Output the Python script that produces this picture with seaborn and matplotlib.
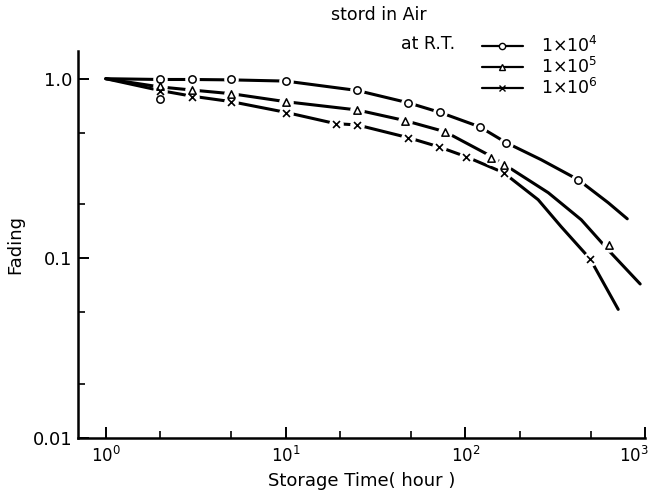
import matplotlib
matplotlib.use("Agg")
import matplotlib.pyplot as plt
import matplotlib.ticker as mticker
import matplotlib.transforms as mtransforms
from matplotlib.lines import Line2D
import seaborn as sns

# measured points (storage time in hours, relative fading)
hours_1e4 = [2, 2, 3, 5, 10, 25, 48, 72, 120, 169, 424]
fading_1e4 = [0.99, 0.77, 0.99, 0.99, 0.975, 0.86, 0.735, 0.65, 0.54, 0.44, 0.274]
hours_1e5 = [2, 3, 5, 10, 25, 46, 77, 139, 163, 630]
fading_1e5 = [0.91, 0.87, 0.825, 0.745, 0.67, 0.585, 0.507, 0.363, 0.332, 0.119]
hours_1e6 = [2, 3, 5, 10, 19, 25, 48, 71, 101, 163, 495]
fading_1e6 = [0.85, 0.79, 0.745, 0.647, 0.56, 0.555, 0.47, 0.418, 0.368, 0.30, 0.099]

# hand drawn guide curves
curve_x_1e4 = [1, 2, 3, 5, 10, 25, 48, 72, 120, 169, 264, 424, 623, 795]
curve_y_1e4 = [1.0, 0.99, 0.99, 0.985, 0.97, 0.86, 0.735, 0.65, 0.54, 0.44, 0.354, 0.274, 0.204, 0.166]
curve_x_1e5 = [1, 2, 3, 5, 10, 25, 46, 77, 139, 163, 289, 441, 630, 938]
curve_y_1e5 = [1.0, 0.9, 0.865, 0.825, 0.745, 0.67, 0.585, 0.507, 0.37, 0.335, 0.232, 0.164, 0.11, 0.072]
curve_x_1e6 = [1, 2, 3, 5, 10, 19, 25, 48, 71, 101, 163, 254, 341, 495, 708]
curve_y_1e6 = [1.0, 0.86, 0.8, 0.745, 0.65, 0.562, 0.553, 0.47, 0.418, 0.368, 0.30, 0.212, 0.150, 0.099, 0.052]

series_labels = [r"1$\times$10$^4$", r"1$\times$10$^5$", r"1$\times$10$^6$"]
series_markers = ["o", "^", "x"]

sns.set_style("ticks")
plt.rcParams["font.family"] = ["DejaVu Sans"]
for key in ["text.color", "axes.labelcolor", "xtick.color", "ytick.color", "axes.edgecolor"]:
    plt.rcParams[key] = "black"

fig = plt.figure(figsize=(6.55, 4.98), dpi=100)
ax = fig.add_axes([0.119, 0.1205, 0.866, 0.7775])

curves = [(curve_x_1e4, curve_y_1e4), (curve_x_1e5, curve_y_1e5), (curve_x_1e6, curve_y_1e6)]
points = [(hours_1e4, fading_1e4), (hours_1e5, fading_1e5), (hours_1e6, fading_1e6)]

for cx, cy in curves:
    sns.lineplot(x=cx, y=cy, sort=False, estimator=None, color="black", lw=2.2, ax=ax, zorder=2)

for (px, py), mk in zip(points, series_markers):
    # white halo so the curve looks broken around each marker
    sns.scatterplot(x=px, y=py, marker="o", s=110, color="white", edgecolor="white",
                    linewidth=0, ax=ax, zorder=3)
    if mk == "x":
        sns.scatterplot(x=px, y=py, marker="x", s=25, color="black", linewidth=1.2,
                        ax=ax, zorder=4)
    else:
        sns.scatterplot(x=px, y=py, marker=mk, s=28, facecolor="white", edgecolor="black",
                        linewidth=1.1, ax=ax, zorder=4)

ax.set_xscale("log")
ax.set_yscale("log")
ax.set_xlim(0.7, 1000)
ax.set_ylim(0.01, 1.43)

ax.xaxis.set_major_locator(mticker.FixedLocator([1, 10, 100, 1000]))
ax.xaxis.set_minor_locator(mticker.LogLocator(base=10, subs=[2, 5]))
ax.xaxis.set_minor_formatter(mticker.NullFormatter())
ax.yaxis.set_major_locator(mticker.FixedLocator([0.01, 0.1, 1.0]))
ax.yaxis.set_major_formatter(mticker.FixedFormatter(["0.01", "0.1", "1.0"]))
ax.yaxis.set_minor_locator(mticker.LogLocator(base=10, subs=[2, 5]))
ax.yaxis.set_minor_formatter(mticker.NullFormatter())

ax.tick_params(which="major", direction="in", length=8, width=1.4, labelsize=13, pad=4)
ax.tick_params(axis="x", which="major", labelsize=12, pad=6)
ax.tick_params(which="minor", direction="in", length=5, width=1.2)

sns.despine(ax=ax)
for side in ["left", "bottom"]:
    ax.spines[side].set_linewidth(1.8)

ax.set_xlabel("Storage Time( hour )", fontsize=13, labelpad=4)
ax.set_ylabel("Fading", fontsize=13, labelpad=6)

fig.text(0.505, 0.97, "stord in Air", fontsize=12.5, ha="left", va="center")
fig.text(0.695, 0.912, "at R.T.", fontsize=12.5, ha="right", va="center")

handles = [Line2D([], [], color="black", lw=1.6, marker=mk, ms=4.5, mfc="white",
                  mec="black", mew=1.0) for mk in series_markers]
ax.legend(handles, series_labels, loc="upper left", bbox_to_anchor=(0.722, 0.945),
          bbox_transform=fig.transFigure, frameon=False, fontsize=12.5,
          handlelength=2.4, handletextpad=1.0, labelspacing=0.05, borderpad=0)

# the 10^3 label sits a bit left of its tick so it stays on the page
fig.canvas.draw()
last_label = ax.xaxis.get_major_ticks()[-1].label1
last_label.set_transform(last_label.get_transform()
                         + mtransforms.ScaledTranslation(-8 / 72, 0, fig.dpi_scale_trans))

fig.savefig("out.png", dpi=100)
